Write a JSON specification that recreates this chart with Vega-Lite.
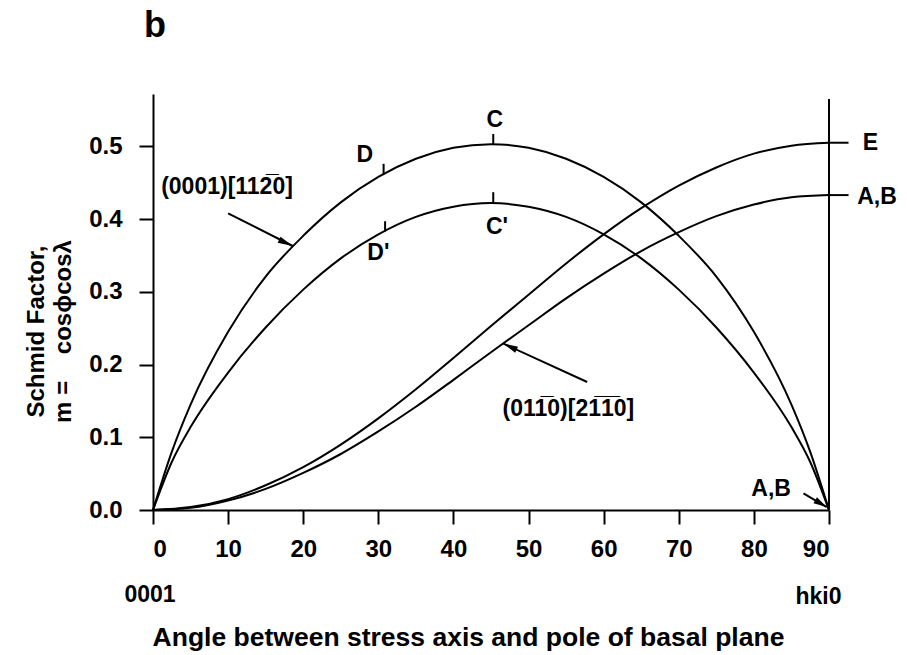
{
  "$schema": "https://vega.github.io/schema/vega-lite/v6.json",
  "autosize": {"type": "none"},
  "padding": {"left": 153, "top": 94, "right": 78, "bottom": 145},
  "width": 676,
  "height": 416,
  "background": "white",
  "title": {
    "text": "b",
    "anchor": "start",
    "frame": "group",
    "font": "Liberation Sans",
    "fontSize": 36,
    "fontWeight": "bold",
    "color": "black",
    "baseline": "alphabetic",
    "offset": 21,
    "dx": -9
  },
  "config": {
    "view": {"stroke": null},
    "font": "Liberation Sans",
    "axis": {
      "grid": false,
      "domainColor": "black",
      "domainWidth": 2,
      "tickColor": "black",
      "tickWidth": 2,
      "tickSize": 14,
      "labelFont": "Liberation Sans",
      "labelFontWeight": "bold",
      "labelFontSize": 24,
      "labelColor": "black",
      "titleFont": "Liberation Sans",
      "titleFontWeight": "bold",
      "titleColor": "black"
    }
  },
  "datasets": {
    "curves": [
      {"angle": 0, "m": 0, "curve": "basal"},
      {"angle": 2.5, "m": 0.08, "curve": "basal"},
      {"angle": 5, "m": 0.145, "curve": "basal"},
      {"angle": 10, "m": 0.245, "curve": "basal"},
      {"angle": 15, "m": 0.321, "curve": "basal"},
      {"angle": 20, "m": 0.377, "curve": "basal"},
      {"angle": 25, "m": 0.423, "curve": "basal"},
      {"angle": 30, "m": 0.458, "curve": "basal"},
      {"angle": 35, "m": 0.483, "curve": "basal"},
      {"angle": 40, "m": 0.498, "curve": "basal"},
      {"angle": 45, "m": 0.503, "curve": "basal"},
      {"angle": 50, "m": 0.498, "curve": "basal"},
      {"angle": 55, "m": 0.483, "curve": "basal"},
      {"angle": 60, "m": 0.458, "curve": "basal"},
      {"angle": 65, "m": 0.423, "curve": "basal"},
      {"angle": 70, "m": 0.377, "curve": "basal"},
      {"angle": 75, "m": 0.321, "curve": "basal"},
      {"angle": 80, "m": 0.245, "curve": "basal"},
      {"angle": 85, "m": 0.145, "curve": "basal"},
      {"angle": 87.5, "m": 0.08, "curve": "basal"},
      {"angle": 90, "m": 0, "curve": "basal"},

      {"angle": 0, "m": 0, "curve": "basal30"},
      {"angle": 2.5, "m": 0.066, "curve": "basal30"},
      {"angle": 5, "m": 0.114, "curve": "basal30"},
      {"angle": 10, "m": 0.189, "curve": "basal30"},
      {"angle": 15, "m": 0.251, "curve": "basal30"},
      {"angle": 20, "m": 0.303, "curve": "basal30"},
      {"angle": 25, "m": 0.346, "curve": "basal30"},
      {"angle": 30, "m": 0.379, "curve": "basal30"},
      {"angle": 35, "m": 0.403, "curve": "basal30"},
      {"angle": 40, "m": 0.417, "curve": "basal30"},
      {"angle": 45, "m": 0.422, "curve": "basal30"},
      {"angle": 50, "m": 0.417, "curve": "basal30"},
      {"angle": 55, "m": 0.403, "curve": "basal30"},
      {"angle": 60, "m": 0.379, "curve": "basal30"},
      {"angle": 65, "m": 0.346, "curve": "basal30"},
      {"angle": 70, "m": 0.303, "curve": "basal30"},
      {"angle": 75, "m": 0.251, "curve": "basal30"},
      {"angle": 80, "m": 0.189, "curve": "basal30"},
      {"angle": 85, "m": 0.114, "curve": "basal30"},
      {"angle": 87.5, "m": 0.066, "curve": "basal30"},
      {"angle": 90, "m": 0, "curve": "basal30"},

      {"angle": 0, "m": 0, "curve": "prismE"},
      {"angle": 5, "m": 0.004, "curve": "prismE"},
      {"angle": 10, "m": 0.015, "curve": "prismE"},
      {"angle": 15, "m": 0.034, "curve": "prismE"},
      {"angle": 20, "m": 0.059, "curve": "prismE"},
      {"angle": 25, "m": 0.09, "curve": "prismE"},
      {"angle": 30, "m": 0.126, "curve": "prismE"},
      {"angle": 35, "m": 0.166, "curve": "prismE"},
      {"angle": 40, "m": 0.209, "curve": "prismE"},
      {"angle": 45, "m": 0.253, "curve": "prismE"},
      {"angle": 50, "m": 0.296, "curve": "prismE"},
      {"angle": 55, "m": 0.339, "curve": "prismE"},
      {"angle": 60, "m": 0.379, "curve": "prismE"},
      {"angle": 65, "m": 0.415, "curve": "prismE"},
      {"angle": 70, "m": 0.446, "curve": "prismE"},
      {"angle": 75, "m": 0.471, "curve": "prismE"},
      {"angle": 80, "m": 0.49, "curve": "prismE"},
      {"angle": 85, "m": 0.501, "curve": "prismE"},
      {"angle": 90, "m": 0.505, "curve": "prismE"},

      {"angle": 0, "m": 0, "curve": "prismAB"},
      {"angle": 5, "m": 0.003, "curve": "prismAB"},
      {"angle": 10, "m": 0.013, "curve": "prismAB"},
      {"angle": 15, "m": 0.029, "curve": "prismAB"},
      {"angle": 20, "m": 0.051, "curve": "prismAB"},
      {"angle": 25, "m": 0.077, "curve": "prismAB"},
      {"angle": 30, "m": 0.108, "curve": "prismAB"},
      {"angle": 35, "m": 0.142, "curve": "prismAB"},
      {"angle": 40, "m": 0.179, "curve": "prismAB"},
      {"angle": 45, "m": 0.217, "curve": "prismAB"},
      {"angle": 50, "m": 0.254, "curve": "prismAB"},
      {"angle": 55, "m": 0.291, "curve": "prismAB"},
      {"angle": 60, "m": 0.325, "curve": "prismAB"},
      {"angle": 65, "m": 0.356, "curve": "prismAB"},
      {"angle": 70, "m": 0.382, "curve": "prismAB"},
      {"angle": 75, "m": 0.404, "curve": "prismAB"},
      {"angle": 80, "m": 0.42, "curve": "prismAB"},
      {"angle": 85, "m": 0.43, "curve": "prismAB"},
      {"angle": 90, "m": 0.433, "curve": "prismAB"}
    ],
    "segments": [
      {"name": "right frame", "x": 90, "y": 0, "x2": 90, "y2": 0.565},
      {"name": "tick D", "x": 30.7, "y": 0.461, "x2": 30.7, "y2": 0.476},
      {"name": "tick C", "x": 45.3, "y": 0.503, "x2": 45.3, "y2": 0.517},
      {"name": "tick D'", "x": 30.9, "y": 0.383, "x2": 30.9, "y2": 0.397},
      {"name": "tick C'", "x": 45.3, "y": 0.422, "x2": 45.3, "y2": 0.437},
      {"name": "tick E", "x": 90, "y": 0.505, "x2": 92.6, "y2": 0.505},
      {"name": "tick A,B", "x": 90, "y": 0.433, "x2": 92.6, "y2": 0.433},
      {"name": "arrow basal", "x": 10, "y": 0.408, "x2": 18.6, "y2": 0.363},
      {"name": "arrow prism", "x": 57.8, "y": 0.176, "x2": 46.6, "y2": 0.229},
      {"name": "arrow A,B", "x": 86.6, "y": 0.023, "x2": 89.7, "y2": 0.004}
    ],
    "labels": [
      {"x": 28.2, "y": 0.488, "label": "D"},
      {"x": 45.5, "y": 0.536, "label": "C"},
      {"x": 30, "y": 0.353, "label": "D'"},
      {"x": 45.8, "y": 0.389, "label": "C'"},
      {"x": 95.5, "y": 0.504, "label": "E"},
      {"x": 96.4, "y": 0.431, "label": "A,B"},
      {"x": 82.3, "y": 0.029, "label": "A,B"},
      {"x": -0.4, "y": -0.117, "label": "0001"},
      {"x": 88.6, "y": -0.119, "label": "hki0"}
    ],
    "planes": [
      {"x": 9.85, "y": 0.444, "label": "(0001)[112\u03050]"},
      {"x": 55.3, "y": 0.139, "label": "(011\u03050)[21\u03051\u03050]"}
    ]
  },
  "encoding": {
    "x": {
      "type": "quantitative",
      "scale": {"domain": [0, 90], "nice": false},
      "axis": {
        "values": [0, 10, 20, 30, 40, 50, 60, 70, 80, 90],
        "labelPadding": 13,
        "title": "Angle between stress axis and pole of basal plane",
        "titleFontSize": 26.5,
        "titleX": 315,
        "titleY": 135,
        "titleAlign": "center",
        "titleBaseline": "alphabetic"
      }
    },
    "y": {
      "type": "quantitative",
      "scale": {"domain": [0, 0.572], "nice": false, "zero": false},
      "axis": {
        "values": [0, 0.1, 0.2, 0.3, 0.4, 0.5],
        "format": ".1f",
        "labelPadding": 17,
        "title": ["Schmid Factor,", "m =\u00a0\u00a0\u00a0\u00a0cos\u03d5cos\u03bb"],
        "titleFontSize": 24,
        "titleLineHeight": 27,
        "titleAngle": -90,
        "titleX": -117,
        "titleY": 237,
        "titleAlign": "center",
        "titleBaseline": "middle"
      }
    }
  },
  "layer": [
    {
      "data": {"name": "curves"},
      "mark": {"type": "line", "color": "black", "strokeWidth": 2, "interpolate": "monotone"},
      "encoding": {
        "x": {"field": "angle"},
        "y": {"field": "m"},
        "detail": {"field": "curve", "type": "nominal"}
      }
    },
    {
      "data": {"name": "segments"},
      "mark": {"type": "rule", "color": "black", "strokeWidth": 2},
      "encoding": {
        "x": {"field": "x"},
        "y": {"field": "y"},
        "x2": {"field": "x2"},
        "y2": {"field": "y2"}
      }
    },
    {
      "data": {"values": [{"x": 18.6, "y": 0.363}]},
      "mark": {"type": "point", "filled": true, "color": "black", "opacity": 1, "shape": "M0,0L-2,-0.45L-2,0.45Z", "size": 225, "angle": 24.8},
      "encoding": {"x": {"field": "x"}, "y": {"field": "y"}}
    },
    {
      "data": {"values": [{"x": 46.6, "y": 0.229}]},
      "mark": {"type": "point", "filled": true, "color": "black", "opacity": 1, "shape": "M0,0L-2,-0.45L-2,0.45Z", "size": 225, "angle": 205},
      "encoding": {"x": {"field": "x"}, "y": {"field": "y"}}
    },
    {
      "data": {"values": [{"x": 89.7, "y": 0.004}]},
      "mark": {"type": "point", "filled": true, "color": "black", "opacity": 1, "shape": "M0,0L-2,-0.5L-2,0.5Z", "size": 180, "angle": 30.6},
      "encoding": {"x": {"field": "x"}, "y": {"field": "y"}}
    },
    {
      "data": {"name": "labels"},
      "mark": {"type": "text", "font": "Liberation Sans", "fontWeight": "bold", "fontSize": 23, "color": "black", "align": "center", "baseline": "middle"},
      "encoding": {"x": {"field": "x"}, "y": {"field": "y"}, "text": {"field": "label"}}
    },
    {
      "data": {"name": "planes"},
      "mark": {"type": "text", "font": "Liberation Sans", "fontWeight": "bold", "fontSize": 23, "color": "black", "align": "center", "baseline": "middle"},
      "encoding": {"x": {"field": "x"}, "y": {"field": "y"}, "text": {"field": "label"}}
    }
  ]
}
